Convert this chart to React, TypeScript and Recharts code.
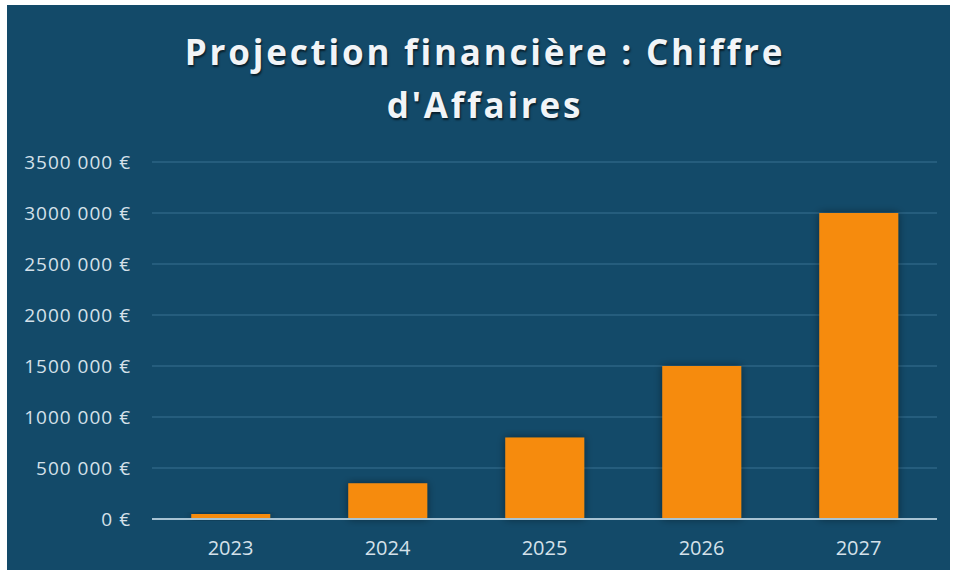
import React from 'react';
import { BarChart, Bar, XAxis, YAxis, CartesianGrid } from 'recharts';

const years = ['2023', '2024', '2025', '2026', '2027'];
const revenue = [50000, 350000, 800000, 1500000, 3000000];
const yTicks = [0, 500000, 1000000, 1500000, 2000000, 2500000, 3000000, 3500000];
const yTickLabels = ['0 €', '500 000 €', '1000 000 €', '1500 000 €', '2000 000 €', '2500 000 €', '3000 000 €', '3500 000 €'];
const titleLines = ['Projection financière : Chiffre', "d'Affaires"];

const data = years.map((y, i) => ({ year: y, value: revenue[i] }));

export default function App() {
  const font = "'Open Sans', sans-serif";
  return (
    <div style={{ position: 'absolute', left: 0, top: 0, width: 956, height: 574, background: '#ffffff', overflow: 'hidden' }}>
      <div style={{ position: 'absolute', left: 7, top: 5, width: 943, height: 565, background: '#134a69' }} />
      <div style={{ position: 'absolute', left: 0, top: 25, width: 970, textAlign: 'center', color: '#f1f4f7', fontFamily: font, fontWeight: 700, fontSize: 35, letterSpacing: 2.8, lineHeight: '53px', textShadow: '1px 2px 2px rgba(0,0,0,0.6)' }}>
        {titleLines.map((t) => (<div key={t}>{t}</div>))}
      </div>
      <div style={{ position: 'absolute', left: 0, top: 0 }}>
        <BarChart width={956} height={574} data={data} margin={{ top: 162, right: 19, bottom: 25, left: 7 }} barCategoryGap="25%">
          <defs>
            <filter id="shadow" x="-20%" y="-20%" width="140%" height="140%">
              <feDropShadow dx="0" dy="0" stdDeviation="4" floodColor="#000" floodOpacity="0.45" />
            </filter>
          </defs>
          <CartesianGrid vertical={false} stroke="#2d6584" strokeWidth={1.5} />
          <XAxis dataKey="year" axisLine={{ stroke: '#a8c3d3', strokeWidth: 2 }} tickLine={false} tickMargin={16}
            tick={{ fill: '#d5e1ea', fontSize: 20, fontFamily: font }} />
          <YAxis width={145} domain={[0, 3500000]} ticks={yTicks} axisLine={false} tickLine={false} tickMargin={15}
            tickFormatter={(v: number) => yTickLabels[yTicks.indexOf(v)]}
            tick={{ fill: '#d5e1ea', fontSize: 19, fontFamily: font, letterSpacing: 1 }} />
          <Bar dataKey="value" fill="#f68b0c" isAnimationActive={false} style={{ filter: 'url(#shadow)' }} />
        </BarChart>
      </div>
    </div>
  );
}
